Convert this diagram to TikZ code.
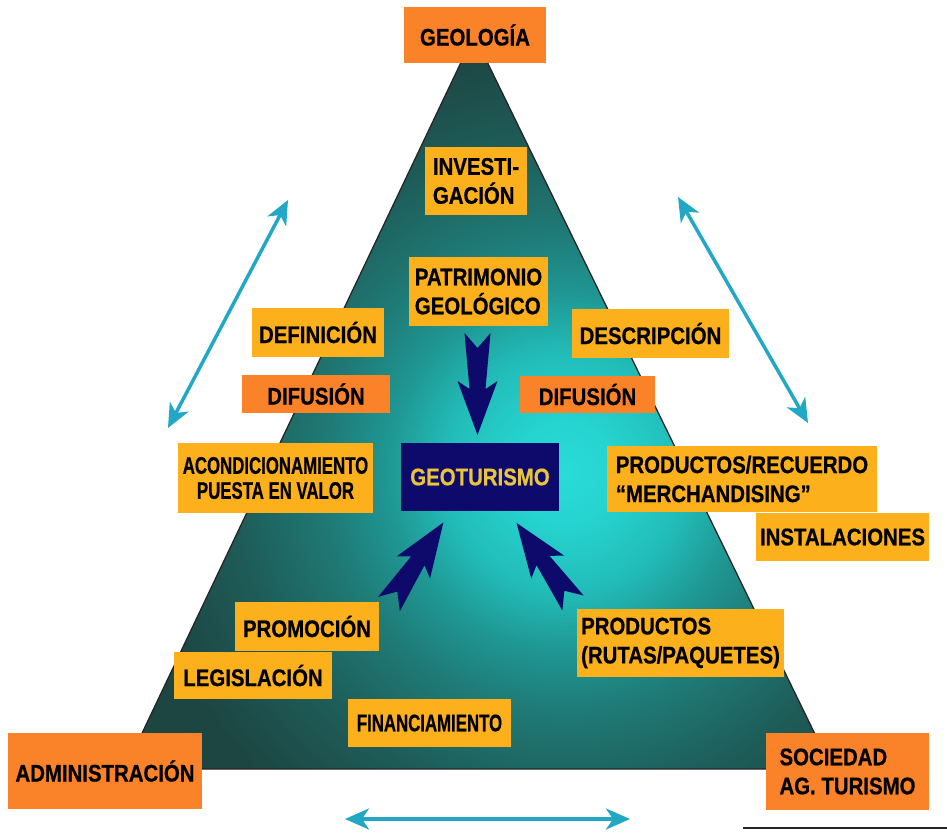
\documentclass[tikz,border=0pt]{standalone}
\usepackage{fontspec}
\setmainfont{Liberation Sans}[FakeStretch=0.85, BoldFeatures={FakeBold=0.6}]
\newfontfamily\condfont{Liberation Sans}[FakeStretch=0.70, BoldFeatures={FakeBold=0.6}]
\usetikzlibrary{arrows.meta}
\definecolor{gold}{RGB}{251,176,28}
\definecolor{orng}{RGB}{250,130,40}
\definecolor{navyb}{RGB}{14,10,108}
\definecolor{cyanarr}{RGB}{34,168,196}
\definecolor{geoyel}{RGB}{232,197,60}
\definecolor{tealA}{RGB}{40,220,215}
\definecolor{tealA2}{RGB}{38,212,208}
\definecolor{tealB}{RGB}{34,188,184}
\definecolor{tealB2}{RGB}{31,150,146}
\definecolor{tealC}{RGB}{31,122,118}
\definecolor{tealC2}{RGB}{30,92,88}
\definecolor{tealD}{RGB}{29,70,66}
% circle of radius 600 -> 25bp corresponds to 600px (1bp = 24px)
\pgfdeclareradialshading{tealglow}{\pgfpoint{0bp}{0bp}}{color(0bp)=(tealA); color(2.08bp)=(tealA2); color(5bp)=(tealB); color(7.5bp)=(tealB2); color(10bp)=(tealC); color(13.75bp)=(tealC2); color(17.9bp)=(tealD); color(50bp)=(tealD)}
\begin{document}
\begin{tikzpicture}[x=1pt, y=-1pt,
  every node/.style={font=\fontsize{24}{29}\selectfont\bfseries, inner sep=0pt, text=black},
  gbox/.style={fill=gold, align=left},
  obox/.style={fill=orng, align=left},
  cbox/.style={fill=gold, align=center, font=\fontsize{24}{25}\selectfont\condfont\bfseries},
  cyanline/.style={draw=cyanarr, line width=3.5pt, {Stealth[length=24pt, width=21pt, inset=7pt]}-{Stealth[length=24pt, width=21pt, inset=7pt]}},
  pics/fatarrow/.style={code={
    \fill[navyb] (0,-13) -- (#1-46,-8) -- (#1-54,-20) -- (#1,0) -- (#1-54,20) -- (#1-46,8) -- (0,13) -- (15,0) -- cycle;}}
]
\useasboundingbox (0,0) rectangle (947,832);
\fill[white] (0,0) rectangle (947,832);

% triangle
\coordinate (apex) at (474,35);
\coordinate (bl) at (125,769);
\coordinate (br) at (832,769);
\begin{scope}
  \clip (apex) -- (bl) -- (br) -- cycle;
  \shade[shading=tealglow] (565,472) circle (600pt);
\end{scope}
\draw[black!85, line width=1.3pt, line join=miter] (apex) -- (bl) -- (br) -- cycle;

% cyan double arrows
\coordinate (l1) at (288,200); \coordinate (l2) at (168,428);
\coordinate (r1) at (678,197); \coordinate (r2) at (808,423);
\coordinate (b1) at (345,819); \coordinate (b2) at (630,819);
\draw[cyanline] (l1) -- (l2);
\draw[cyanline] (r1) -- (r2);
\draw[cyanline] (b1) -- (b2);

% bottom-right rule
\coordinate (k1) at (743,828); \coordinate (k2) at (947,828);
\draw[black!85, line width=2.5pt] (k1) -- (k2);

% boxes
\node[obox, minimum width=142pt, minimum height=56pt] (geo) at (475,35) {GEOLOGÍA};
\node[gbox, minimum width=102pt, minimum height=68pt] (inv) at (476,181) {INVESTI-\\GACIÓN};
\node[gbox, minimum width=139pt, minimum height=69pt] (pat) at (478.5,291.5) {PATRIMONIO\\GEOLÓGICO};
\node[gbox, minimum width=132pt, minimum height=49pt] (def) at (318,332.5) {DEFINICIÓN};
\node[obox, minimum width=148pt, minimum height=38pt] (difl) at (316,394) {DIFUSIÓN};
\node[gbox, minimum width=157pt, minimum height=49pt] (des) at (650.5,333.5) {DESCRIPCIÓN};
\node[obox, minimum width=135pt, minimum height=37pt] (difr) at (587.5,394.5) {DIFUSIÓN};
\node[fill=navyb, text=geoyel, minimum width=158pt, minimum height=68pt] (gt) at (480,477) {GEOTURISMO};
\node[cbox, minimum width=195pt, minimum height=70pt] (aco) at (275.5,478) {ACONDICIONAMIENTO\\PUESTA EN VALOR};
\node[gbox, minimum width=270pt, minimum height=66pt] (prr) at (742,479) {PRODUCTOS/RECUERDO\\“MERCHANDISING”};
\node[gbox, minimum width=173pt, minimum height=48pt] (ins) at (842.5,537) {INSTALACIONES};
\node[gbox, minimum width=144pt, minimum height=49pt] (pro) at (307,626.5) {PROMOCIÓN};
\node[gbox, minimum width=158pt, minimum height=47pt] (leg) at (253,675.5) {LEGISLACIÓN};
\node[cbox, minimum width=163pt, minimum height=48pt] (fin) at (429.5,723) {FINANCIAMIENTO};
\node[gbox, minimum width=207pt, minimum height=68pt] (prp) at (680.5,643) {PRODUCTOS\\(RUTAS/PAQUETES)};
\node[obox, minimum width=194pt, minimum height=76pt] (adm) at (105,771) {ADMINISTRACIÓN};
\node[obox, minimum width=163pt, minimum height=77pt] (soc) at (847.5,771.5) {SOCIEDAD\\AG. TURISMO};

% navy arrows into GEOTURISMO
\coordinate (tA) at (477.5,333);
\coordinate (tB) at (389,604);
\coordinate (tC) at (573,603);
\pic[rotate=-90] at (tA) {fatarrow=102};
\pic[rotate=56.3] at (tB) {fatarrow=98};
\pic[rotate=125.2] at (tC) {fatarrow=98};
\end{tikzpicture}
\end{document}
